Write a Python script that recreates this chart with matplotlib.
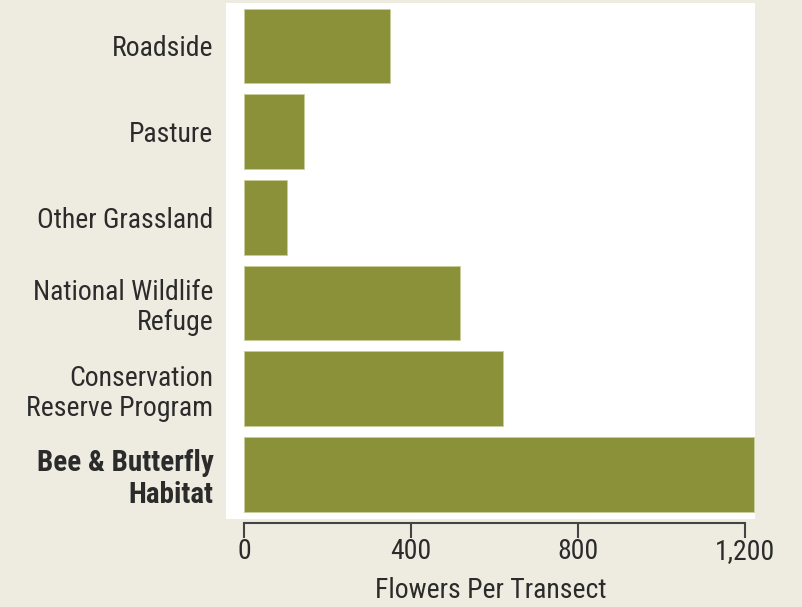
import matplotlib
matplotlib.use("Agg")
import matplotlib.pyplot as plt

# data (bottom to top)
categories = [
    "Bee & Butterfly\nHabitat",
    "Conservation\nReserve Program",
    "National Wildlife\nRefuge",
    "Other Grassland",
    "Pasture",
    "Roadside",
]
flowers_per_transect = [1222, 620, 517, 103, 144, 350]
x_ticks = [0, 400, 800, 1200]
x_tick_labels = ["0", "400", "800", "1,200"]

BG = "#eeece1"
BAR = "#8b9139"
TEXT = "#2b2b2b"

plt.rcParams["font.family"] = ["Roboto Condensed", "DejaVu Sans"]

fig = plt.figure(figsize=(8.02, 6.07), dpi=100, facecolor=BG)
ax = fig.add_axes([0.2818, 0.145, 0.6596, 0.850])
ax.set_facecolor("white")

ypos = list(range(len(categories)))
ax.barh(ypos, flowers_per_transect, height=0.87, color=BAR, edgecolor="#c9cc9a",
        linewidth=0.6)

ax.set_xlim(-43, 1224)
ax.set_ylim(-0.52, 5.5)

ax.set_yticks(ypos)
ax.set_yticklabels(categories, fontsize=20, color=TEXT, linespacing=1.15)
bold_label = ax.get_yticklabels()[0]
bold_label.set_fontweight("bold")
bold_label.set_fontsize(21)
ax.tick_params(axis="y", length=0, pad=9)

for side in ["top", "right", "left"]:
    ax.spines[side].set_visible(False)
ax.spines["bottom"].set_position(("outward", 3))
ax.spines["bottom"].set_bounds(0, 1200)
ax.spines["bottom"].set_color("#444444")
ax.spines["bottom"].set_linewidth(1.5)

ax.set_xticks(x_ticks)
ax.set_xticklabels(x_tick_labels, fontsize=20, color=TEXT)
ax.tick_params(axis="x", direction="out", length=11, width=1.5, color="#444444", pad=0)
ax.set_xlabel("Flowers Per Transect", fontsize=20, color=TEXT, labelpad=8)

fig.savefig("out.png", dpi=100, facecolor=BG)
